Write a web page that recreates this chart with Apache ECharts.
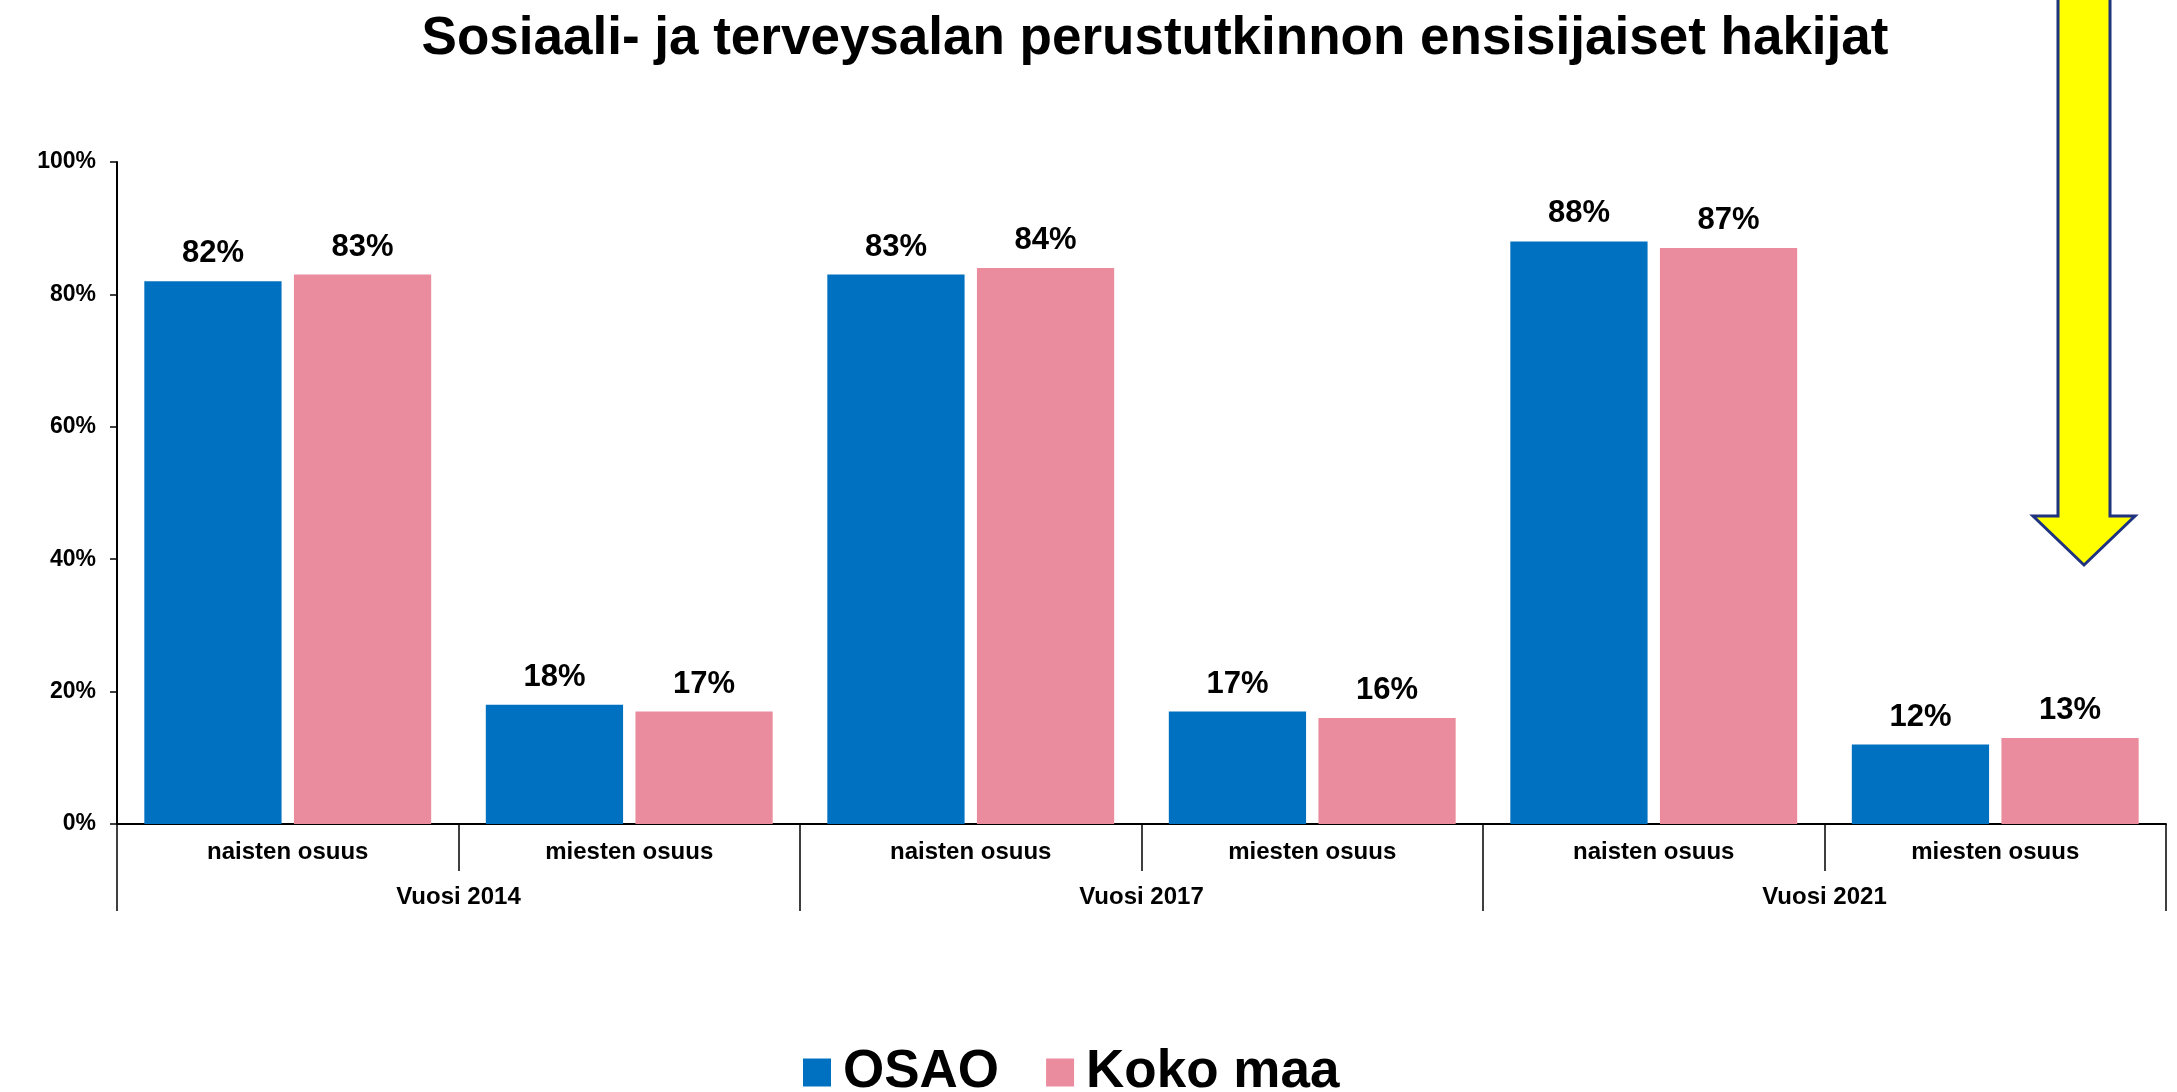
<!DOCTYPE html>
<html>
<head>
<meta charset="utf-8">
<script src="https://cdn.jsdelivr.net/npm/echarts@6/dist/echarts.min.js"></script>
<style>
    html, body { margin: 0; padding: 0; background: #fff; }
    #chart { width: 2177px; height: 1092px; }
</style>
</head>
<body>
<div id="chart"></div>
<script>
const categories = ['naisten osuus', 'miesten osuus', 'naisten osuus', 'miesten osuus', 'naisten osuus', 'miesten osuus'];
const years = ['Vuosi 2014', 'Vuosi 2017', 'Vuosi 2021'];
const osao = [82, 18, 83, 17, 88, 12];
const kokoMaa = [83, 17, 84, 16, 87, 13];
const yTicks = [0, 20, 40, 60, 80, 100];

const font = 'Liberation Sans, Arial, sans-serif';

function renderChart() {
    const myChart = echarts.init(document.getElementById('chart'));

    const valueLabel = {
        show: true,
        position: 'top',
        distance: 12,
        formatter: p => p.value + '%',
        fontFamily: font,
        fontWeight: 'bold',
        fontSize: 31,
        color: '#000'
    };

    const option = {
        animation: false,
        title: {
            text: 'Sosiaali- ja terveysalan perustutkinnon ensisijaiset hakijat',
            left: 1150,
            textAlign: 'center',
            top: 8,
            textStyle: { fontFamily: font, fontWeight: 'bold', fontSize: 53, color: '#000' }
        },
        legend: {
            data: ['OSAO', 'Koko maa'],
            left: 798,
            top: 1041,
            itemWidth: 28,
            itemHeight: 28,
            itemGap: 47,
            icon: 'rect',
            textStyle: { fontFamily: font, fontWeight: 'bold', fontSize: 53, color: '#000', padding: [0, 0, 0, 7] }
        },
        grid: { left: 117, right: 11, top: 162, bottom: 268 },
        xAxis: [
            {
                type: 'category',
                data: categories,
                position: 'bottom',
                axisLine: { lineStyle: { color: '#000', width: 2 } },
                axisTick: { show: true, interval: 0, length: 47, lineStyle: { color: '#000', width: 1.5 } },
                axisLabel: { interval: 0, margin: 16, fontFamily: font, fontWeight: 'bold', fontSize: 24, color: '#000' }
            },
            {
                type: 'category',
                data: years,
                position: 'bottom',
                axisLine: { show: false },
                axisTick: { show: true, interval: 0, length: 87, lineStyle: { color: '#000', width: 1.5 } },
                axisLabel: { interval: 0, margin: 61, fontFamily: font, fontWeight: 'bold', fontSize: 24, color: '#000' }
            }
        ],
        yAxis: {
            type: 'value',
            min: yTicks[0],
            max: yTicks[yTicks.length - 1],
            interval: 20,
            splitLine: { show: false },
            axisLine: { show: true, lineStyle: { color: '#000', width: 2 } },
            axisTick: { show: true, length: 7, lineStyle: { color: '#000', width: 1.5 } },
            axisLabel: { margin: 21, formatter: '{value}%', fontFamily: font, fontWeight: 'bold', fontSize: 23, color: '#000' }
        },
        series: [
            {
                name: 'OSAO',
                type: 'bar',
                xAxisIndex: 0,
                data: osao,
                barGap: '9%',
                barCategoryGap: '16%',
                itemStyle: { color: '#0070c0' },
                label: valueLabel
            },
            {
                name: 'Koko maa',
                type: 'bar',
                xAxisIndex: 0,
                data: kokoMaa,
                itemStyle: { color: '#ea8c9e' },
                label: valueLabel
            }
        ],
        graphic: [
            {
                type: 'polygon',
                shape: {
                    points: [[2058, -5], [2110, -5], [2110, 516], [2135, 516], [2084, 565], [2033, 516], [2058, 516]]
                },
                style: { fill: '#ffff00', stroke: '#1f3380', lineWidth: 3 }
            }
        ]
    };

    myChart.setOption(option);
}

renderChart();
</script>
</body>
</html>
